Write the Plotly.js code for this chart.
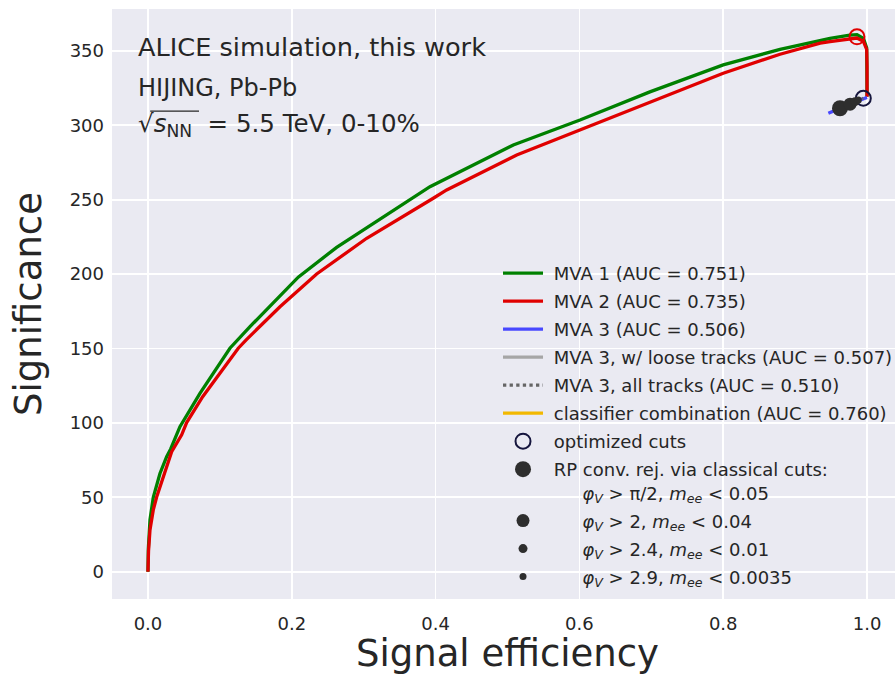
<!DOCTYPE html>
<html>
<head>
<meta charset="utf-8">
<script src="https://cdn.plot.ly/plotly-3.0.1.min.js"></script>
<style>
  html, body { margin: 0; padding: 0; overflow: hidden; background: #ffffff; }
  #chart { width: 903px; height: 675px; }
</style>
</head>
<body>
<div id="chart"></div>
<script>
// Significance vs. signal efficiency for the conversion-rejection classifiers

// MVA 1
const effMVA1 = [0, 0.0005, 0.0028, 0.0074, 0.0167, 0.026, 0.0316, 0.0445, 0.0723, 0.114, 0.1419, 0.209, 0.2624, 0.2856, 0.3922, 0.5081, 0.6008, 0.698, 0.8, 0.879, 0.9349, 0.9485, 0.976, 0.986, 0.995, 0.9995, 1.0];
const sigMVA1 = [0, 15, 34.8, 50, 66, 77.3, 82.5, 97.5, 119.9, 150.2, 164.7, 198, 218, 225.2, 258.8, 286.8, 303.6, 322.5, 340.6, 351.1, 357.4, 358.5, 360.7, 361.0, 358.5, 352, 319.3];

// MVA 2
const effMVA2 = [0, 0.0008, 0.0028, 0.0074, 0.0121, 0.0213, 0.033, 0.0469, 0.0538, 0.0761, 0.1001, 0.1256, 0.1363, 0.1836, 0.2346, 0.3042, 0.3968, 0.4154, 0.5128, 0.6008, 0.698, 0.8, 0.879, 0.9349, 0.9485, 0.9857, 0.9949, 0.9995, 1.0, 1.0];
const sigMVA2 = [0, 14, 28, 41.5, 50.2, 63.9, 80.7, 92, 100.2, 117.6, 133.4, 150.2, 155.7, 178.1, 200.1, 224.1, 251, 256.6, 280.1, 296.9, 316, 335, 347.8, 355.2, 356.3, 358.7, 356.5, 351, 340, 319.3];

// MVA 3 and its track-selection variants
const effMVA3 = [0.9462, 0.9624, 0.9764, 0.9879, 1.0];
const sigMVA3 = [308.1, 311.5, 314.2, 316.6, 318.7];
const effMVA3Loose = [0.9624, 0.9764];
const sigMVA3Loose = [311.5, 314.2];
const effMVA3All = [0.9764, 0.9833, 0.9948];
const sigMVA3All = [314.2, 315.9, 318.2];

// classifier combination
const effComb = [0.9624];
const sigComb = [311.5];

// optimized cut working points (MVA 2, MVA 3)
const optEff = [0.986, 0.9948];
const optSig = [359.5, 318.2];

// classical RP conversion-rejection cuts
const rpEff = [0.9624, 0.9764, 0.9833, 0.9879];
const rpSig = [311.5, 314.2, 315.9, 317.0];

const auc = { mva1: 0.751, mva2: 0.735, mva3: 0.506, loose: 0.507, all: 0.510, comb: 0.760 };

const xTicks = [0, 0.2, 0.4, 0.6, 0.8, 1.0];
const xTickText = ['0.0', '0.2', '0.4', '0.6', '0.8', '1.0'];
const yTicks = [0, 50, 100, 150, 200, 250, 300, 350];

const ind = '&nbsp;';
const cutIndent = '&nbsp;&nbsp;&nbsp;&nbsp;&nbsp;';
const phiV = '<i>φ</i><sub><i>V</i></sub>';
const mee = '<i>m</i><sub><i>ee</i></sub>';
const rpLabels = [
  ind + 'RP conv. rej. via classical cuts:<br>' + ind + cutIndent + phiV + ' &gt; π/2, ' + mee + ' &lt; 0.05',
  ind + cutIndent + phiV + ' &gt; 2, ' + mee + ' &lt; 0.04',
  ind + cutIndent + phiV + ' &gt; 2.4, ' + mee + ' &lt; 0.01',
  ind + cutIndent + phiV + ' &gt; 2.9, ' + mee + ' &lt; 0.0035'
];
const rpSizes = [16, 13, 9, 7];

const DARK = '#2e2e2e';
const TEXT = '#262626';

function lineTrace(x, y, name, color, group, dash) {
  return {
    x: x, y: y, type: 'scatter', mode: 'lines', name: name,
    legendgroup: group,
    line: { color: color, width: 3.3, dash: dash || 'solid' },
    hoverinfo: 'skip'
  };
}

const traces = [
  lineTrace(effMVA1, sigMVA1, ind + 'MVA 1 (AUC = ' + auc.mva1.toFixed(3) + ')', '#008000', 'g1'),
  lineTrace(effMVA2, sigMVA2, ind + 'MVA 2 (AUC = ' + auc.mva2.toFixed(3) + ')', '#e00000', 'g2'),
  lineTrace(effMVA3, sigMVA3, ind + 'MVA 3 (AUC = ' + auc.mva3.toFixed(3) + ')', '#4848ff', 'g3'),
  lineTrace(effMVA3Loose, sigMVA3Loose, ind + 'MVA 3, w/ loose tracks (AUC = ' + auc.loose.toFixed(3) + ')', '#a6a6a6', 'g4'),
  lineTrace(effMVA3All, sigMVA3All, ind + 'MVA 3, all tracks (AUC = ' + auc.all.toFixed(3) + ')', '#666666', 'g5', 'dot'),
  lineTrace(effComb, sigComb, ind + 'classifier combination (AUC = ' + auc.comb.toFixed(3) + ')', '#f2b800', 'g6'),
  {
    x: [optEff[0]], y: [optSig[0]], type: 'scatter', mode: 'markers', showlegend: false,
    marker: { symbol: 'circle-open', size: 15, line: { color: '#e00000', width: 2 }, color: '#e00000' },
    hoverinfo: 'skip'
  },
  {
    x: [optEff[1]], y: [optSig[1]], type: 'scatter', mode: 'markers', name: ind + 'optimized cuts',
    legendgroup: 'g7',
    marker: { symbol: 'circle-open', size: 15, line: { color: '#16163e', width: 2 }, color: '#16163e' },
    hoverinfo: 'skip'
  }
];

rpEff.forEach(function (e, i) {
  traces.push({
    x: [e], y: [rpSig[i]], type: 'scatter', mode: 'markers', name: rpLabels[i],
    legendgroup: 'rp' + i,
    marker: { symbol: 'circle', size: rpSizes[i], color: DARK },
    hoverinfo: 'skip'
  });
});

const annFont = { family: 'DejaVu Sans', color: TEXT };
const layout = {
  width: 903, height: 675,
  margin: { l: 112, r: 0, t: 9, b: 76 },
  paper_bgcolor: '#ffffff',
  plot_bgcolor: '#eaeaf2',
  font: { family: 'DejaVu Sans', color: TEXT },
  showlegend: true,
  legend: {
    x: 0.4880, y: 0.5831, xanchor: 'left', yanchor: 'top',
    bgcolor: 'rgba(0,0,0,0)', borderwidth: 0,
    font: { family: 'DejaVu Sans', size: 18, color: TEXT },
    tracegroupgap: 1.6,
    itemwidth: 40,
    valign: 'top'
  },
  xaxis: {
    range: [-0.05, 1.05],
    tickvals: xTicks, ticktext: xTickText,
    showgrid: true, gridcolor: '#ffffff', gridwidth: 1.8,
    zeroline: false, showline: false, ticks: '',
    tickfont: { family: 'DejaVu Sans', size: 18, color: TEXT },
    ticklabelstandoff: 12,
    title: { text: 'Signal efficiency', font: { family: 'DejaVu Sans', size: 37, color: TEXT }, standoff: 0 }
  },
  yaxis: {
    range: [-18.35, 378.2],
    tickvals: yTicks,
    showgrid: true, gridcolor: '#ffffff', gridwidth: 1.8,
    zeroline: false, showline: false, ticks: '',
    tickfont: { family: 'DejaVu Sans', size: 18, color: TEXT },
    ticklabelstandoff: 7,
    title: { text: 'Significance', font: { family: 'DejaVu Sans', size: 37, color: TEXT }, standoff: 16 }
  },
  annotations: [
    {
      xref: 'paper', yref: 'paper', x: 0.0303, y: 0.935, xanchor: 'left', yanchor: 'middle',
      showarrow: false, text: 'ALICE simulation, this work',
      font: Object.assign({ size: 25.6 }, annFont)
    },
    {
      xref: 'paper', yref: 'paper', x: 0.0303, y: 0.8665, xanchor: 'left', yanchor: 'middle',
      showarrow: false, text: 'HIJING, Pb-Pb',
      font: Object.assign({ size: 24 }, annFont)
    },
    {
      xref: 'paper', yref: 'paper', x: 0.0303, y: 0.8040, xanchor: 'left', yanchor: 'middle',
      showarrow: false, text: '√<i>s</i><sub>NN</sub>&nbsp; = 5.5 TeV, 0-10%',
      font: Object.assign({ size: 24.5 }, annFont)
    }
  ],
  shapes: [
    // vinculum of the square root
    {
      type: 'line', xref: 'paper', yref: 'paper',
      x0: 0.0483, x1: 0.1100, y0: 0.8270, y1: 0.8270,
      line: { color: TEXT, width: 1.3 }
    }
  ]
};

Plotly.newPlot('chart', traces, layout, { staticPlot: true, displayModeBar: false });
</script>
</body>
</html>
